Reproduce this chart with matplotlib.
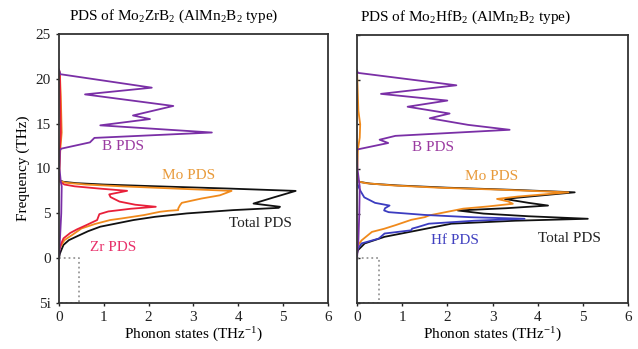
import matplotlib
matplotlib.use("Agg")
import matplotlib.pyplot as plt

# ---- data: (frequency THz, phonon states) ----
# Mo2ZrB2
zr_tot_f = [0.0, 0.5, 1.0, 1.47, 2.0, 2.4, 3.0, 3.5, 4.24, 4.6, 4.98, 5.35, 5.6, 5.72, 6.08, 6.4, 6.75, 7.0, 7.49, 7.75, 8.0, 8.2, 8.35, 8.5, 8.7]
zr_tot_d = [0.0, 0.02, 0.06, 0.1, 0.22, 0.39, 0.65, 0.92, 1.66, 2.14, 2.85, 3.89, 4.9, 4.93, 4.34, 4.55, 4.78, 4.95, 5.28, 3.8, 2.2, 1.0, 0.4, 0.1, 0.0]

zr_mo_f = [1.0, 2.0, 2.6, 3.3, 3.8, 4.24, 4.42, 4.8, 5.16, 5.27, 5.35, 5.53, 5.9, 6.16, 6.64, 7.0, 7.49, 7.75, 8.0, 8.2, 8.4, 8.6, 9.0, 12.2, 14.0, 16.0, 18.0, 20.5, 21.0]
zr_mo_d = [0.0, 0.12, 0.3, 0.5, 0.8, 1.14, 1.4, 1.9, 2.25, 2.44, 2.66, 2.66, 2.7, 2.74, 3.18, 3.59, 3.85, 2.6, 1.4, 0.6, 0.15, 0.02, 0.0, 0.03, 0.06, 0.05, 0.04, 0.02, 0.0]

zr_zr_f = [0.8, 1.5, 2.2, 2.8, 3.2, 3.7, 4.24, 4.9, 5.2, 5.5, 5.72, 5.95, 6.3, 6.8, 7.1, 7.5, 7.75, 8.0, 8.2, 8.5, 8.8, 12.2, 14.0, 17.0, 20.5, 21.0]
zr_zr_d = [0.0, 0.04, 0.1, 0.25, 0.4, 0.62, 0.85, 0.9, 1.1, 1.6, 2.16, 1.7, 1.35, 1.15, 1.12, 1.52, 0.9, 0.35, 0.12, 0.02, 0.0, 0.02, 0.04, 0.03, 0.02, 0.0]

zr_b_f = [0.0, 2.0, 5.0, 8.0, 8.5, 10.0, 12.0, 12.2, 12.9, 13.4, 14.0, 14.8, 15.5, 15.9, 16.96, 18.25, 19.0, 20.5, 21.0]
zr_b_d = [0.0, 0.02, 0.05, 0.06, 0.04, 0.01, 0.02, 0.05, 0.69, 0.79, 3.41, 0.92, 2.03, 1.65, 2.55, 0.58, 2.07, 0.03, 0.0]

# Mo2HfB2
hf_tot_f = [0.5, 0.9, 1.66, 2.4, 3.13, 3.87, 4.2, 4.42, 4.7, 5.0, 5.35, 5.6, 5.9, 6.2, 6.64, 6.9, 7.38, 7.65, 7.9, 8.15, 8.35, 8.55, 8.8]
hf_tot_d = [0.0, 0.02, 0.17, 0.61, 1.35, 2.09, 3.5, 5.11, 3.8, 2.8, 2.23, 3.3, 4.23, 3.8, 3.27, 3.8, 4.82, 3.5, 2.0, 0.9, 0.3, 0.05, 0.0]

hf_mo_f = [1.3, 2.0, 2.95, 3.3, 3.7, 4.3, 4.6, 4.8, 5.2, 5.55, 5.8, 6.1, 6.35, 6.64, 6.9, 7.38, 7.65, 7.9, 8.15, 8.4, 8.6, 8.9, 12.2, 13.5, 15.0, 16.5, 18.0, 21.0]
hf_mo_d = [0.0, 0.1, 0.33, 0.6, 0.85, 1.2, 1.5, 1.6, 2.0, 2.35, 2.9, 3.45, 3.35, 3.1, 3.55, 4.68, 3.3, 1.8, 0.8, 0.2, 0.02, 0.0, 0.02, 0.06, 0.07, 0.03, 0.02, 0.0]

hf_hf_f = [0.9, 1.66, 2.2, 2.77, 3.13, 3.32, 3.5, 3.87, 4.2, 4.42, 4.6, 4.85, 5.16, 5.35, 5.6, 5.9, 6.2, 6.82, 7.5, 7.93, 8.3, 8.6]
hf_hf_d = [0.0, 0.1, 0.48, 0.61, 1.2, 1.22, 1.35, 1.59, 2.6, 3.71, 2.5, 1.5, 0.7, 0.6, 0.62, 0.72, 0.4, 0.16, 0.08, 0.04, 0.01, 0.0]

hf_b_f = [0.0, 2.0, 5.0, 8.0, 10.0, 12.17, 12.9, 13.27, 13.7, 14.38, 14.93, 15.67, 16.2, 16.96, 17.65, 18.4, 19.36, 20.75, 21.0]
hf_b_d = [0.0, 0.03, 0.05, 0.06, 0.01, 0.0, 0.69, 0.5, 0.85, 3.38, 2.46, 1.61, 2.05, 1.12, 2.0, 0.53, 2.2, 0.02, 0.0]

yticks = [-5, 0, 5, 10, 15, 20, 25]
ytick_labels = ['5i', '0', '5', '10', '15', '20', '25']
xticks = [0, 1, 2, 3, 4, 5, 6]

plt.rcParams['font.family'] = ['Liberation Serif', 'DejaVu Serif']
plt.rcParams['mathtext.default'] = 'regular'

c_b = '#7a2fa6'
c_mo = '#f08a1c'
c_zr = '#e8203a'
c_hf = '#3b3cc0'
c_tot = '#111111'

fig = plt.figure(figsize=(6.38, 3.49), dpi=100)
ax1 = fig.add_axes([0.0925, 0.132, 0.4215, 0.771])
ax2 = fig.add_axes([0.5596, 0.132, 0.4247, 0.768])

lw = 1.3
# left panel
ax1.plot(zr_tot_d, zr_tot_f, color=c_tot, lw=lw)
ax1.plot(zr_mo_d, zr_mo_f, color=c_mo, lw=lw)
ax1.plot(zr_zr_d, zr_zr_f, color=c_zr, lw=lw)
ax1.plot(zr_b_d, zr_b_f, color=c_b, lw=lw)
# right panel
ax2.plot(hf_tot_d, hf_tot_f, color=c_tot, lw=lw)
ax2.plot(hf_mo_d, hf_mo_f, color=c_mo, lw=lw)
ax2.plot(hf_hf_d, hf_hf_f, color=c_hf, lw=lw)
ax2.plot(hf_b_d, hf_b_f, color=c_b, lw=lw)

for ax, xd in ((ax1, 0.45), (ax2, 0.48)):
    ax.plot([0, xd, xd, 0], [0, 0, -5, -5], color='#999999', ls=':', lw=1.3)
    ax.set_xlim(0, 6)
    ax.set_ylim(-5, 25)
    ax.set_xticks(xticks)
    ax.set_yticks(yticks)
    ax.tick_params(labelsize=11, length=2.5, width=1, colors='#222222')
    for s in ax.spines.values():
        s.set_linewidth(1.3)
        s.set_color('#333333')
    ax.set_xlabel('Phonon states (THz$^{-1}$)', fontsize=11, labelpad=1)

ax1.set_yticklabels(ytick_labels)
ax1.set_ylabel('Frequency (THz)', fontsize=11, labelpad=4)
ax2.tick_params(axis='y', direction='in', labelleft=False)

ax1.set_title('PDS of Mo$_2$ZrB$_2$ (AlMn$_2$B$_2$ type)', fontsize=11, pad=10, x=0.425)
ax2.set_title('PDS of Mo$_2$HfB$_2$ (AlMn$_2$B$_2$ type)', fontsize=11, pad=10, x=0.40)

fs = 11
ax1.text(1.43, 12.4, 'B PDS', color='#9a3aa0', fontsize=fs, ha='center', va='center')
ax1.text(2.9, 9.2, 'Mo PDS', color='#e89a3a', fontsize=fs, ha='center', va='center')
ax1.text(4.49, 3.87, 'Total PDS', color='#222222', fontsize=fs, ha='center', va='center')
ax1.text(1.2, 1.2, 'Zr PDS', color='#e8306a', fontsize=fs, ha='center', va='center')

ax2.text(1.68, 12.35, 'B PDS', color='#9a3aa0', fontsize=fs, ha='center', va='center')
ax2.text(2.97, 9.2, 'Mo PDS', color='#e89a3a', fontsize=fs, ha='center', va='center')
ax2.text(2.16, 2.03, 'Hf PDS', color='#4040c0', fontsize=fs, ha='center', va='center')
ax2.text(4.7, 2.2, 'Total PDS', color='#222222', fontsize=fs, ha='center', va='center')

fig.savefig('out.png', dpi=100)
